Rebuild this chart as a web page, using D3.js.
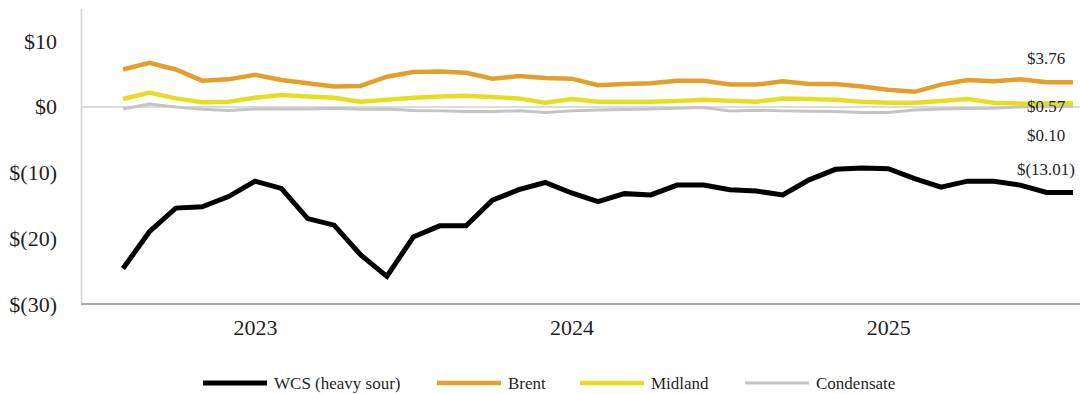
<!DOCTYPE html>
<html>
<head>
<meta charset="utf-8">
<script src="https://cdn.jsdelivr.net/npm/d3@7"></script>
<style>
    body { margin: 0; background: #ffffff; }
    #chart text { font-family: "Liberation Serif", "Times New Roman", serif; fill: #1f1f1f; }
</style>
</head>
<body>
<div id="chart"></div>
<script>
// Monthly categories (x axis)
var months = [
    "2023-01", "2023-02", "2023-03", "2023-04", "2023-05", "2023-06", "2023-07", "2023-08", "2023-09", "2023-10", "2023-11", "2023-12",
    "2024-01", "2024-02", "2024-03", "2024-04", "2024-05", "2024-06", "2024-07", "2024-08", "2024-09", "2024-10", "2024-11", "2024-12",
    "2025-01", "2025-02", "2025-03", "2025-04", "2025-05", "2025-06", "2025-07", "2025-08", "2025-09", "2025-10", "2025-11", "2025-12",
    "2026-01"
];

// Year labels and the month each one sits under
var yearLabels = ["2023", "2024", "2025"];
var yearLabelMonths = ["2023-06", "2024-06", "2025-06"];

// Y axis ticks
var yTicks = [10, 0, -10, -20, -30];
var yTickLabels = ["$10", "$0", "$(10)", "$(20)", "$(30)"];

// Series values ($/bbl differential)
var wcs = [-24.6, -19.0, -15.4, -15.2, -13.65, -11.3, -12.4, -17.0, -18.0, -22.5, -25.8, -19.8,
           -18.1, -18.1, -14.2, -12.6, -11.5, -13.1, -14.4, -13.2, -13.4, -11.9, -11.9, -12.6,
           -12.8, -13.4, -11.1, -9.5, -9.3, -9.4, -10.9, -12.2, -11.3, -11.3, -11.9, -13.01, -13.01];
var brent = [5.7, 6.7, 5.7, 4.0, 4.2, 4.9, 4.1, 3.6, 3.1, 3.2, 4.6, 5.3,
             5.4, 5.2, 4.3, 4.7, 4.4, 4.3, 3.3, 3.5, 3.6, 4.0, 4.0, 3.4,
             3.4, 3.9, 3.5, 3.5, 3.1, 2.6, 2.3, 3.4, 4.1, 3.9, 4.2, 3.76, 3.76];
var midland = [1.2, 2.2, 1.3, 0.7, 0.8, 1.4, 1.8, 1.6, 1.4, 0.8, 1.1, 1.4,
               1.6, 1.7, 1.5, 1.3, 0.65, 1.2, 0.8, 0.8, 0.8, 0.9, 1.1, 0.95,
               0.8, 1.3, 1.2, 1.1, 0.8, 0.65, 0.65, 0.9, 1.2, 0.65, 0.5, 0.57, 0.57];
var condensate = [-0.3, 0.45, 0.0, -0.35, -0.55, -0.3, -0.3, -0.3, -0.2, -0.35, -0.3, -0.55,
                  -0.6, -0.7, -0.7, -0.6, -0.85, -0.6, -0.45, -0.4, -0.3, -0.2, -0.1, -0.6,
                  -0.5, -0.6, -0.65, -0.7, -0.85, -0.85, -0.45, -0.3, -0.25, -0.2, 0.0, 0.1, 0.1];

// Series names and end-of-line labels
var seriesNames = ["WCS (heavy sour)", "Brent", "Midland", "Condensate"];
var endLabels = ["$(13.01)", "$3.76", "$0.57", "$0.10"];

function init() {
    var w = 1080;
    var h = 394;

    var series = [
        { name: seriesNames[0], values: wcs, color: "#000000", width: 5, label: endLabels[0], dy: -23 },
        { name: seriesNames[1], values: brent, color: "#e49e2a", width: 4.5, label: endLabels[1], dy: -24 },
        { name: seriesNames[2], values: midland, color: "#e6dd22", width: 4.5, label: endLabels[2], dy: 3 },
        { name: seriesNames[3], values: condensate, color: "#c4c4c4", width: 3, label: endLabels[3], dy: 29 }
    ];

    // Scales
    var xScale = d3.scalePoint()
                    .domain(months)
                    .range([123, 1073]);

    var yScale = d3.scaleLinear()
                    .domain([-30, 15])
                    .range([304, 8.4]);

    var svg = d3.select("#chart")
                .append("svg")
                .attr("width", w)
                .attr("height", h);

    // Zero line
    svg.append("line")
        .attr("x1", 81)
        .attr("x2", w)
        .attr("y1", yScale(0))
        .attr("y2", yScale(0))
        .attr("stroke", "#d0d0d0")
        .attr("stroke-width", 1.5);

    // Y axis
    var yAxis = d3.axisLeft(yScale)
                    .tickValues(yTicks)
                    .tickSize(0)
                    .tickPadding(24)
                    .tickFormat(function(d, i) { return yTickLabels[i]; });

    var gy = svg.append("g")
        .attr("transform", "translate(81,0)")
        .call(yAxis);
    gy.select(".domain").attr("stroke", "#d4d4d4").attr("stroke-width", 1.5);
    gy.selectAll("text").attr("font-size", "22px").attr("font-family", null);

    // X axis (bottom line + year labels)
    svg.append("line")
        .attr("x1", 81)
        .attr("x2", w)
        .attr("y1", 304)
        .attr("y2", 304)
        .attr("stroke", "#a8a8a8")
        .attr("stroke-width", 2);

    var xAxis = d3.axisBottom(xScale)
                    .tickValues(yearLabelMonths)
                    .tickSize(0)
                    .tickPadding(15)
                    .tickFormat(function(d, i) { return yearLabels[i]; });

    var gx = svg.append("g")
        .attr("transform", "translate(0,304)")
        .call(xAxis);
    gx.select(".domain").remove();
    gx.selectAll("text").attr("font-size", "22px").attr("font-family", null);

    // Lines
    var line = d3.line()
                .x(function(d, i) { return xScale(months[i]); })
                .y(function(d) { return yScale(d); });

    // Draw from back to front: condensate, midland, brent, wcs
    svg.selectAll(".series")
        .data(series.slice().reverse())
        .enter()
        .append("path")
        .attr("class", "series")
        .attr("fill", "none")
        .attr("stroke", function(d) { return d.color; })
        .attr("stroke-width", function(d) { return d.width; })
        .attr("stroke-linejoin", "miter")
        .attr("d", function(d) { return line(d.values); });

    // End-of-line labels
    svg.selectAll(".end-label")
        .data(series)
        .enter()
        .append("text")
        .attr("class", "end-label")
        .attr("x", 1046)
        .attr("y", function(d) { return yScale(d.values[d.values.length - 1]) + d.dy; })
        .attr("dy", "0.35em")
        .attr("text-anchor", "middle")
        .attr("font-size", "17px")
        .text(function(d) { return d.label; });

    // Legend
    var legendX = [203, 437, 580, 745];
    var legend = svg.selectAll(".legend")
        .data(series)
        .enter()
        .append("g")
        .attr("class", "legend")
        .attr("transform", function(d, i) { return "translate(" + legendX[i] + ",383)"; });

    legend.append("line")
        .attr("x1", 0)
        .attr("x2", 64)
        .attr("stroke", function(d) { return d.color; })
        .attr("stroke-width", function(d) { return d.width; });

    legend.append("text")
        .attr("x", 71)
        .attr("dy", "0.35em")
        .attr("font-size", "17px")
        .text(function(d) { return d.name; });
}

window.onload = init;
</script>
</body>
</html>
